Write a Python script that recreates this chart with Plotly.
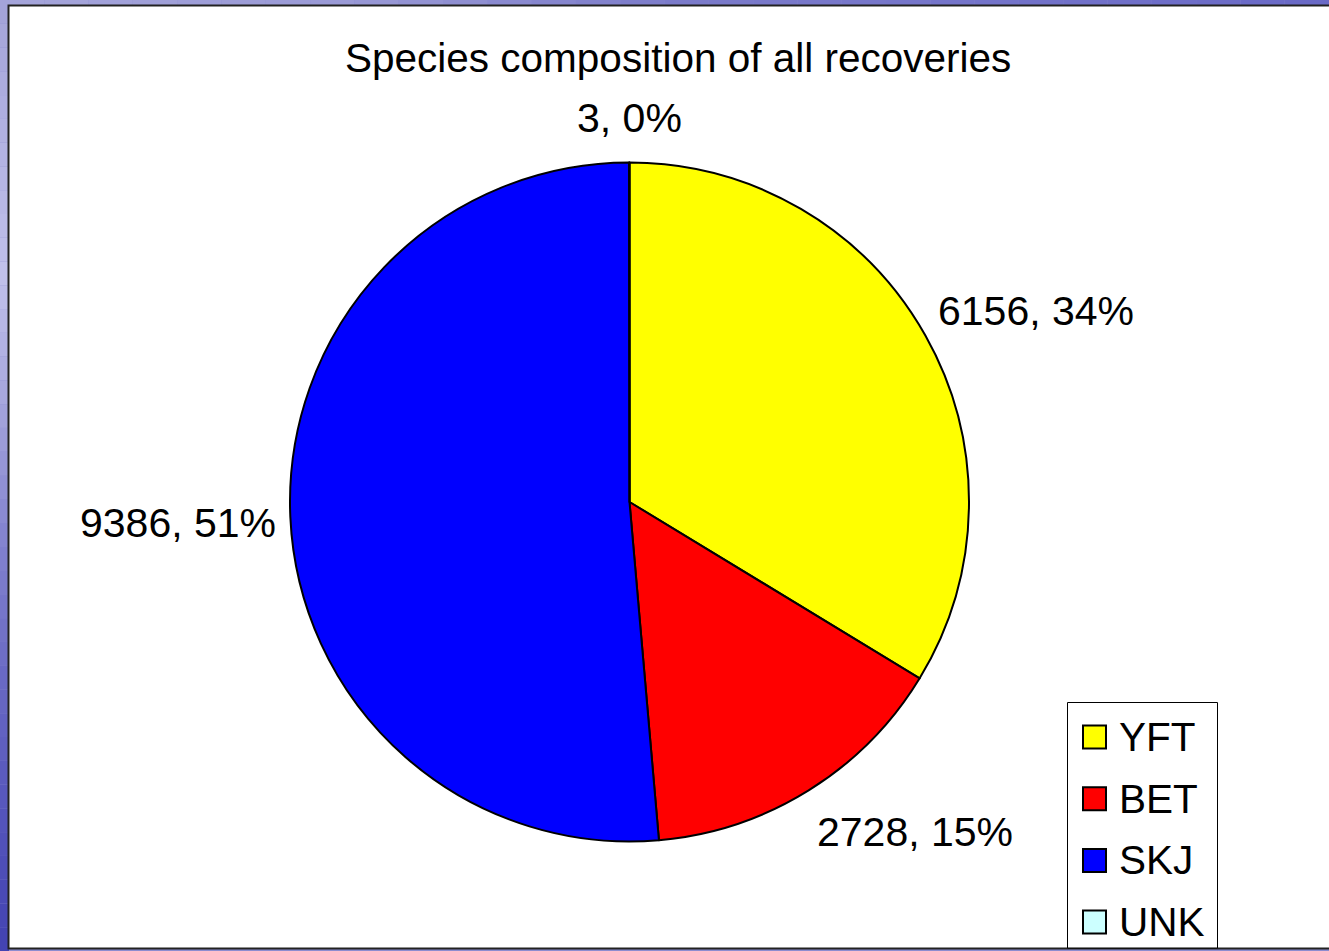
import math
import plotly.graph_objects as go

# Tag recoveries by species
species = ["YFT", "BET", "SKJ", "UNK"]
recoveries = [6156, 2728, 9386, 3]
colors = ["#FFFF00", "#FF0000", "#0000FF", "#CCFFFF"]
title_text = "Species composition of all recoveries"

W, H = 1329, 951
FONT = "Liberation Sans, Arial, sans-serif"


def px(x):
    return x / W


def py(y):
    return 1 - y / H


def lerp_color(c1, c2, t):
    a = [int(c1[i:i + 2], 16) for i in (1, 3, 5)]
    b = [int(c2[i:i + 2], 16) for i in (1, 3, 5)]
    return "#%02x%02x%02x" % tuple(round(a[k] + (b[k] - a[k]) * t) for k in range(3))


def bands(stops, n):
    out = []
    for i in range(n):
        t = i / (n - 1) * (len(stops) - 1)
        j = min(int(t), len(stops) - 2)
        out.append(lerp_color(stops[j], stops[j + 1], t - j))
    return out


shapes = []

# slide background: vertical strip on the left, horizontal strip on top
left_stops = ["#a4a4da", "#b2b2e2", "#c0c0ea", "#a4a4dc", "#8282ce", "#6a6ac4", "#5656bc", "#4444b2"]
n_left = 40
for i, c in enumerate(bands(left_stops, n_left)):
    shapes.append(dict(type="rect", xref="paper", yref="paper", layer="below",
                       x0=0, x1=px(9), y0=py(H * (i + 1) / n_left), y1=py(H * i / n_left),
                       line=dict(width=0), fillcolor=c))
top_stops = ["#a4a4da", "#9a9ad6", "#7c7cca", "#7474ca", "#6a6ac6"]
n_top = 30
for i, c in enumerate(bands(top_stops, n_top)):
    shapes.append(dict(type="rect", xref="paper", yref="paper", layer="below",
                       x0=px(W * i / n_top), x1=px(W * (i + 1) / n_top), y0=py(6), y1=1,
                       line=dict(width=0), fillcolor=c))

# white chart area with dark frame
shapes.append(dict(type="rect", xref="paper", yref="paper", layer="below",
                   x0=px(8.5), x1=px(W + 20), y0=py(948.5), y1=py(5.5),
                   line=dict(color="#222222", width=2), fillcolor="#FFFFFF"))

# pie geometry (pixels)
cx, cy, r = 629.5, 502.0, 339.5

fig = go.Figure(go.Pie(
    labels=species,
    values=recoveries,
    sort=False,
    direction="clockwise",
    rotation=0,
    marker=dict(colors=colors, line=dict(color="#000000", width=2)),
    textinfo="none",
    hoverinfo="label+value+percent",
    showlegend=False,
    domain=dict(x=[px(cx - r), px(cx + r)], y=[py(cy + r), py(cy - r)]),
))

annotations = []

# slice labels "value, percent" placed just outside the rim
total = sum(recoveries)
cum = 0
gap = 12
for name, v in zip(species, recoveries):
    mid = (cum + v / 2) / total * 2 * math.pi
    cum += v
    s, c = math.sin(mid), math.cos(mid)
    side = abs(s) >= 0.3
    R_lab = r + gap + (0 if side else 8)
    x = cx + R_lab * s
    y = cy - R_lab * c
    xa = "left" if s >= 0.3 else ("right" if s <= -0.3 else "center")
    ya = "middle" if abs(c) < 0.3 else ("bottom" if c > 0 else "top")
    pct = round(100 * v / total)
    annotations.append(dict(x=px(x), y=py(y), xref="paper", yref="paper",
                            text=f"{v}, {pct}%", showarrow=False,
                            xanchor=xa, yanchor=ya, yshift=-6 if side else 0,
                            font=dict(family=FONT, size=41, color="#000000")))

# title
annotations.append(dict(x=px(677.5), y=py(58), xref="paper", yref="paper",
                        text=title_text, showarrow=False,
                        xanchor="center", yanchor="middle",
                        font=dict(family=FONT, size=40.5, color="#000000")))

# legend box
leg_x0, leg_x1, leg_top = 1067.5, 1217.5, 702.5
shapes.append(dict(type="rect", xref="paper", yref="paper",
                   x0=px(leg_x0), x1=px(leg_x1), y0=py(948), y1=py(leg_top),
                   line=dict(color="#000000", width=1), fillcolor="#FFFFFF"))
row0, row_step, sw = 737, 61.7, 23
for i, (name, col) in enumerate(zip(species, colors)):
    yc = row0 + i * row_step
    shapes.append(dict(type="rect", xref="paper", yref="paper",
                       x0=px(1083), x1=px(1083 + sw), y0=py(yc + sw / 2), y1=py(yc - sw / 2),
                       line=dict(color="#000000", width=2), fillcolor=col))
    annotations.append(dict(x=px(1117), y=py(yc), xref="paper", yref="paper",
                            text=name, showarrow=False, xanchor="left", yanchor="middle",
                            font=dict(family=FONT, size=40.5, color="#000000")))

fig.update_layout(
    width=W, height=H,
    margin=dict(l=0, r=0, t=0, b=0),
    paper_bgcolor="#8c8cd0",
    plot_bgcolor="#FFFFFF",
    shapes=shapes,
    annotations=annotations,
    showlegend=False,
)

fig.write_html("out.html")
